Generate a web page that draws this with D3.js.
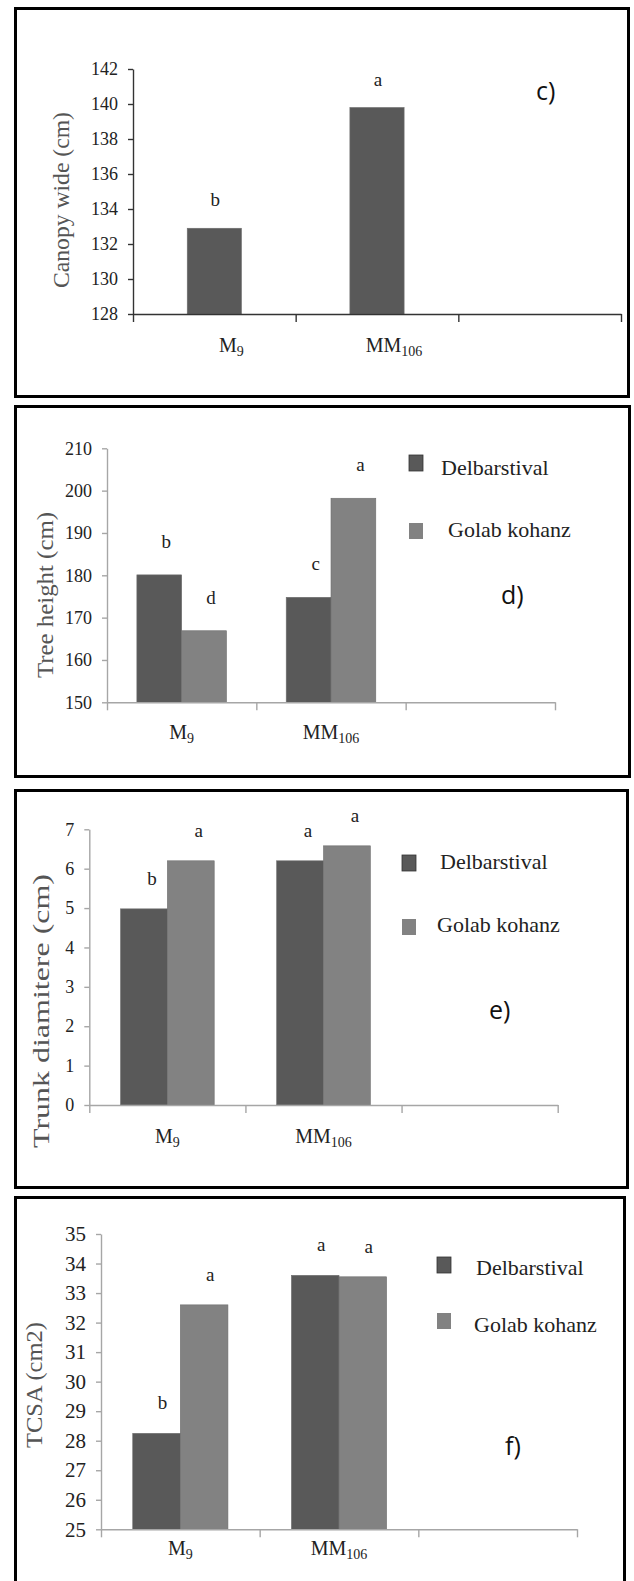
<!DOCTYPE html>
<html>
<head>
<meta charset="utf-8">
<script src="https://cdnjs.cloudflare.com/ajax/libs/d3/7.8.5/d3.min.js"></script>
<style>
body { margin: 0; background: #fff; }
svg { display: block; }
</style>
</head>
<body>
<svg></svg>
<script>
// rootstocks (main text + subscript)
var categories = ["M", "MM"]
var categorySubs = ["9", "106"]
var seriesNames = ["Delbarstival", "Golab kohanz"]
var seriesColors = ["#595959", "#828282"]

// c) canopy wide
var canopyWide = [132.9, 139.8]
var canopyLetters = ["b", "a"]
var canopyTicks = [128, 130, 132, 134, 136, 138, 140, 142]

// d) tree height
var heightDelbar = [180.1, 174.8]
var heightGolab = [166.9, 198.2]
var heightLettersDelbar = ["b", "c"]
var heightLettersGolab = ["d", "a"]
var heightTicks = [150, 160, 170, 180, 190, 200, 210]

// e) trunk diameter
var trunkDelbar = [4.98, 6.2]
var trunkGolab = [6.2, 6.58]
var trunkLettersDelbar = ["b", "a"]
var trunkLettersGolab = ["a", "a"]
var trunkTicks = [0, 1, 2, 3, 4, 5, 6, 7]

// f) TCSA
var tcsaDelbar = [28.25, 33.6]
var tcsaGolab = [32.6, 33.55]
var tcsaLettersDelbar = ["b", "a"]
var tcsaLettersGolab = ["a", "a"]
var tcsaTicks = [25, 26, 27, 28, 29, 30, 31, 32, 33, 34, 35]

var serif = "'Liberation Serif', 'Times New Roman', serif"

// layout of the four boxes
var panels = [
  {frame: [15.5, 8.5, 613, 388], x0: 133, x1: 621, yTop: 69, yBottom: 314,
   ticks: canopyTicks, series: [canopyWide], letters: [canopyLetters], colors: ["#595959"], barPad: 1,
   title: "Canopy wide (cm)", titleX: 61, titleY: 200, titleLen: 176, titleSize: 24,
   axisColor: "#333", tickFont: 18, labelY: 352, labelDx: 17, letterDx: 1, letterGap: 22,
   tag: "c)", tagX: 536, tagY: 100, legend: false},
  {frame: [15.5, 406.5, 614, 370], x0: 107, x1: 555, yTop: 448.3, yBottom: 702.3,
   ticks: heightTicks, series: [heightDelbar, heightGolab],
   letters: [heightLettersDelbar, heightLettersGolab], colors: seriesColors, barPad: 0.667,
   title: "Tree height (cm)", titleX: 45, titleY: 595, titleLen: 166, titleSize: 24,
   axisColor: "#a6a6a6", tickFont: 18, labelY: 739, labelDx: 0, letterDx: 7, letterGap: 27,
   tag: "d)", tagX: 501, tagY: 604, legend: true,
   legX: 409, legY: [455, 523], legTextX: [441, 448], legTextY: [475, 537]},
  {frame: [15.5, 790.5, 612, 397], x0: 89.3, x1: 557.7, yTop: 829.3, yBottom: 1105,
   ticks: trunkTicks, series: [trunkDelbar, trunkGolab],
   letters: [trunkLettersDelbar, trunkLettersGolab], colors: seriesColors, barPad: 0.667,
   title: "Trunk diamitere (cm)", titleX: 41, titleY: 1011, titleLen: 274, titleSize: 23,
   axisColor: "#a6a6a6", tickFont: 18, labelY: 1143, labelDx: 0, letterDx: 8, letterGap: 24,
   tag: "e)", tagX: 489, tagY: 1019, legend: true,
   legX: 402, legY: [855, 919], legTextX: [440, 437], legTextY: [869, 932]},
  {frame: [15.5, 1197.5, 609, 400], x0: 101, x1: 577, yTop: 1234, yBottom: 1529.3,
   ticks: tcsaTicks, series: [tcsaDelbar, tcsaGolab],
   letters: [tcsaLettersDelbar, tcsaLettersGolab], colors: seriesColors, barPad: 0.667,
   title: "TCSA  (cm2)", titleX: 34, titleY: 1385, titleLen: 126, titleSize: 24,
   axisColor: "#a6a6a6", tickFont: 21, labelY: 1555, labelDx: 0, letterDx: 6, letterGap: 24,
   tag: "f)", tagX: 505, tagY: 1455, legend: true,
   legX: 437, legY: [1257, 1313], legTextX: [476, 474], legTextY: [1275, 1332]}
]

var svg = d3.select("svg")
  .attr("width", 634)
  .attr("height", 1581)

panels.forEach(drawPanel)

function drawPanel(p) {
  var g = svg.append("g")

  g.append("rect")
    .attr("x", p.frame[0]).attr("y", p.frame[1])
    .attr("width", p.frame[2]).attr("height", p.frame[3])
    .attr("fill", "none").attr("stroke", "#000").attr("stroke-width", 3)

  var y = d3.scaleLinear()
    .domain([p.ticks[0], p.ticks[p.ticks.length - 1]])
    .range([p.yBottom, p.yTop])

  // third slot on the axis stays empty, like the original
  var x = d3.scaleBand().domain([0, 1, 2]).range([p.x0, p.x1]).paddingInner(0).paddingOuter(0)
  var xs = d3.scaleBand()
    .domain(d3.range(p.series.length))
    .range([0, x.bandwidth()])
    .paddingInner(0)
    .paddingOuter(p.barPad)

  p.series.forEach(function(vals, s) {
    g.selectAll(".bar" + s)
      .data(vals)
      .enter()
      .append("rect")
      .attr("class", "bar" + s)
      .attr("x", function(d, i) { return x(i) + xs(s) })
      .attr("y", function(d) { return y(d) })
      .attr("width", xs.bandwidth())
      .attr("height", function(d) { return p.yBottom - y(d) })
      .attr("fill", p.colors[s])
      .attr("stroke", "#6e6e6e")
      .attr("stroke-width", 0.6)

    g.selectAll(".let" + s)
      .data(vals)
      .enter()
      .append("text")
      .attr("class", "let" + s)
      .attr("x", function(d, i) { return x(i) + xs(s) + xs.bandwidth() / 2 + p.letterDx })
      .attr("y", function(d) { return y(d) - p.letterGap })
      .attr("text-anchor", "middle")
      .attr("font-family", serif)
      .attr("font-size", 19)
      .attr("fill", "#222")
      .text(function(d, i) { return p.letters[s][i] })
  })

  // x axis: ticks at the slot edges, no labels
  var xl = d3.scaleLinear().domain([0, 3]).range([p.x0, p.x1])
  var xa = g.append("g")
    .attr("transform", "translate(0," + p.yBottom + ")")
    .call(d3.axisBottom(xl).tickValues([0, 1, 2, 3]).tickFormat("").tickSize(8).tickSizeOuter(0))
  xa.selectAll("path, line").attr("stroke", p.axisColor).attr("stroke-width", 1.4)

  var ya = g.append("g")
    .attr("transform", "translate(" + p.x0 + ",0)")
    .call(d3.axisLeft(y).tickValues(p.ticks).tickFormat(d3.format("d"))
      .tickSize(5).tickSizeOuter(0).tickPadding(10))
  ya.selectAll("path, line").attr("stroke", p.axisColor).attr("stroke-width", 1.4)
  ya.selectAll("text")
    .attr("font-family", serif)
    .attr("font-size", p.tickFont)
    .attr("fill", "#222")

  // category names with subscripts
  categories.forEach(function(c, i) {
    var t = g.append("text")
      .attr("x", x(i) + x.bandwidth() / 2 + p.labelDx)
      .attr("y", p.labelY)
      .attr("text-anchor", "middle")
      .attr("font-family", serif)
      .attr("font-size", 20)
      .attr("fill", "#222")
    t.append("tspan").text(c)
    t.append("tspan").attr("font-size", 14).attr("dy", 4).text(categorySubs[i])
  })

  g.append("text")
    .attr("transform", "translate(" + p.titleX + "," + p.titleY + ") rotate(-90)")
    .attr("text-anchor", "middle")
    .attr("dy", "0.35em")
    .attr("font-family", serif)
    .attr("font-size", p.titleSize)
    .attr("fill", "#555")
    .attr("textLength", p.titleLen)
    .attr("lengthAdjust", "spacingAndGlyphs")
    .text(p.title)

  g.append("text")
    .attr("x", p.tagX)
    .attr("y", p.tagY)
    .attr("font-family", "'Open Sans', sans-serif")
    .attr("font-size", 25)
    .attr("fill", "#111")
    .text(p.tag)

  if (p.legend) {
    seriesNames.forEach(function(name, s) {
      g.append("rect")
        .attr("x", p.legX).attr("y", p.legY[s])
        .attr("width", 14).attr("height", 16)
        .attr("fill", seriesColors[s])
        .attr("stroke", s === 0 ? "#333" : "none")
        .attr("stroke-width", 0.8)
      g.append("text")
        .attr("x", p.legTextX[s])
        .attr("y", p.legTextY[s])
        .attr("font-family", serif)
        .attr("font-size", 22)
        .attr("fill", "#222")
        .text(name)
    })
  }
}
</script>
</body>
</html>
